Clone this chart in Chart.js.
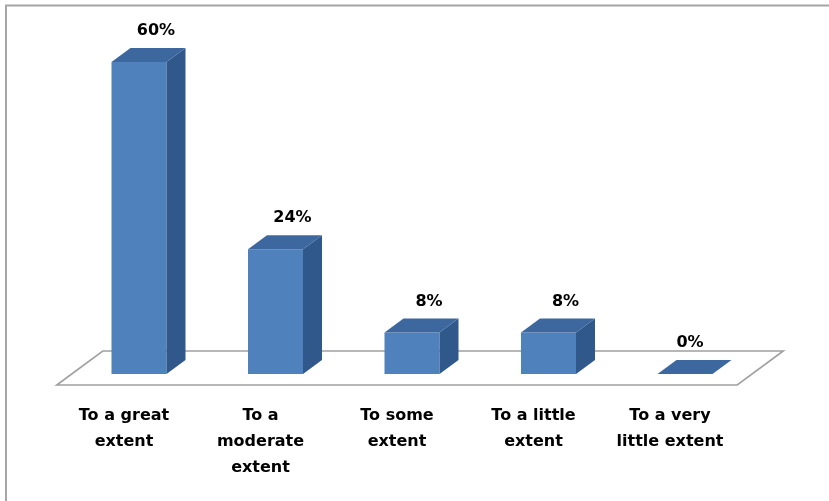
<!DOCTYPE html>
<html>
<head>
<meta charset="utf-8">
<script src="https://cdn.jsdelivr.net/npm/chart.js@4/dist/chart.umd.min.js"></script>
<style>
  html, body { margin: 0; padding: 0; background: #ffffff; }
  #wrap { width: 829px; height: 501px; position: relative; }
</style>
</head>
<body>
<div id="wrap"><canvas id="c" width="829" height="501"></canvas></div>
<script>
const categories = [
  ['To a great', 'extent'],
  ['To a', 'moderate', 'extent'],
  ['To some', 'extent'],
  ['To a little', 'extent'],
  ['To a very', 'little extent']
];
const percentValues = [60, 24, 8, 8, 0];
const valueLabels = ['60%', '24%', '8%', '8%', '0%'];

const FRONT = '#4F81BD';
const TOP = '#3D689F';
const SIDE = '#31588B';
const DEPTH_X = 19, DEPTH_Y = -14;

const frame3d = {
  id: 'frame3d',
  beforeDraw(chart) {
    const ctx = chart.ctx;
    ctx.save();
    ctx.fillStyle = '#ffffff';
    ctx.fillRect(0, 0, chart.width, chart.height);
    ctx.strokeStyle = '#A6A6A6';
    ctx.lineWidth = 2;
    ctx.beginPath();
    ctx.moveTo(6, chart.height);
    ctx.lineTo(6, 5.5);
    ctx.lineTo(chart.width, 5.5);
    ctx.stroke();
    ctx.restore();
  },
  beforeDatasetsDraw(chart) {
    const ctx = chart.ctx;
    const area = chart.chartArea;
    const zeroY = chart.scales.y.getPixelForValue(0);
    const fy = zeroY + 11, by = zeroY - 23;
    const fl = area.left - 14, fr = area.right - 16;
    ctx.save();
    ctx.strokeStyle = '#A0A0A0';
    ctx.lineWidth = 1.6;
    ctx.fillStyle = '#ffffff';
    ctx.beginPath();
    ctx.moveTo(fl, fy);
    ctx.lineTo(fr, fy);
    ctx.lineTo(fr + 46, by);
    ctx.lineTo(fl + 46, by);
    ctx.closePath();
    ctx.fill();
    ctx.stroke();
    ctx.restore();
  },
  afterDatasetsDraw(chart) {
    const ctx = chart.ctx;
    const meta = chart.getDatasetMeta(0);
    ctx.save();
    meta.data.forEach((bar, i) => {
      const x1 = bar.x - bar.width / 2, x2 = bar.x + bar.width / 2;
      const top = bar.y, base = bar.base;
      if (base - top > 0.5) {
        ctx.fillStyle = SIDE;
        ctx.beginPath();
        ctx.moveTo(x2, top);
        ctx.lineTo(x2 + DEPTH_X, top + DEPTH_Y);
        ctx.lineTo(x2 + DEPTH_X, base + DEPTH_Y);
        ctx.lineTo(x2, base);
        ctx.closePath();
        ctx.fill();
      }
      ctx.fillStyle = TOP;
      ctx.beginPath();
      ctx.moveTo(x1, top);
      ctx.lineTo(x2, top);
      ctx.lineTo(x2 + DEPTH_X, top + DEPTH_Y);
      ctx.lineTo(x1 + DEPTH_X, top + DEPTH_Y);
      ctx.closePath();
      ctx.fill();
      const v = chart.data.datasets[0].data[i];
      ctx.fillStyle = '#000000';
      ctx.font = 'bold 16px "DejaVu Sans"';
      ctx.textAlign = 'center';
      ctx.textBaseline = 'middle';
      const lx = bar.x + (v === 0 ? 5 : 17);
      ctx.fillText(valueLabels[i], lx, top - 31);
    });
    ctx.restore();
  }
};

new Chart(document.getElementById('c'), {
  type: 'bar',
  data: {
    labels: categories,
    datasets: [{
      data: percentValues,
      backgroundColor: FRONT,
      borderWidth: 0,
      categoryPercentage: 1,
      barPercentage: 0.403
    }]
  },
  options: {
    responsive: false,
    animation: false,
    events: [],
    layout: { padding: { left: 70.75, right: 75.75, top: 10, bottom: -9 } },
    plugins: { legend: { display: false }, tooltip: { enabled: false } },
    scales: {
      x: {
        grid: { display: false, drawTicks: false },
        border: { display: false },
        ticks: {
          color: '#000000',
          font: { family: '"DejaVu Sans"', size: 16, weight: 'bold', lineHeight: 1.625 },
          padding: 29,
          labelOffset: -15,
          maxRotation: 0,
          autoSkip: false
        }
      },
      y: {
        display: false,
        min: 0,
        max: 70
      }
    }
  },
  plugins: [frame3d]
});
</script>
</body>
</html>
